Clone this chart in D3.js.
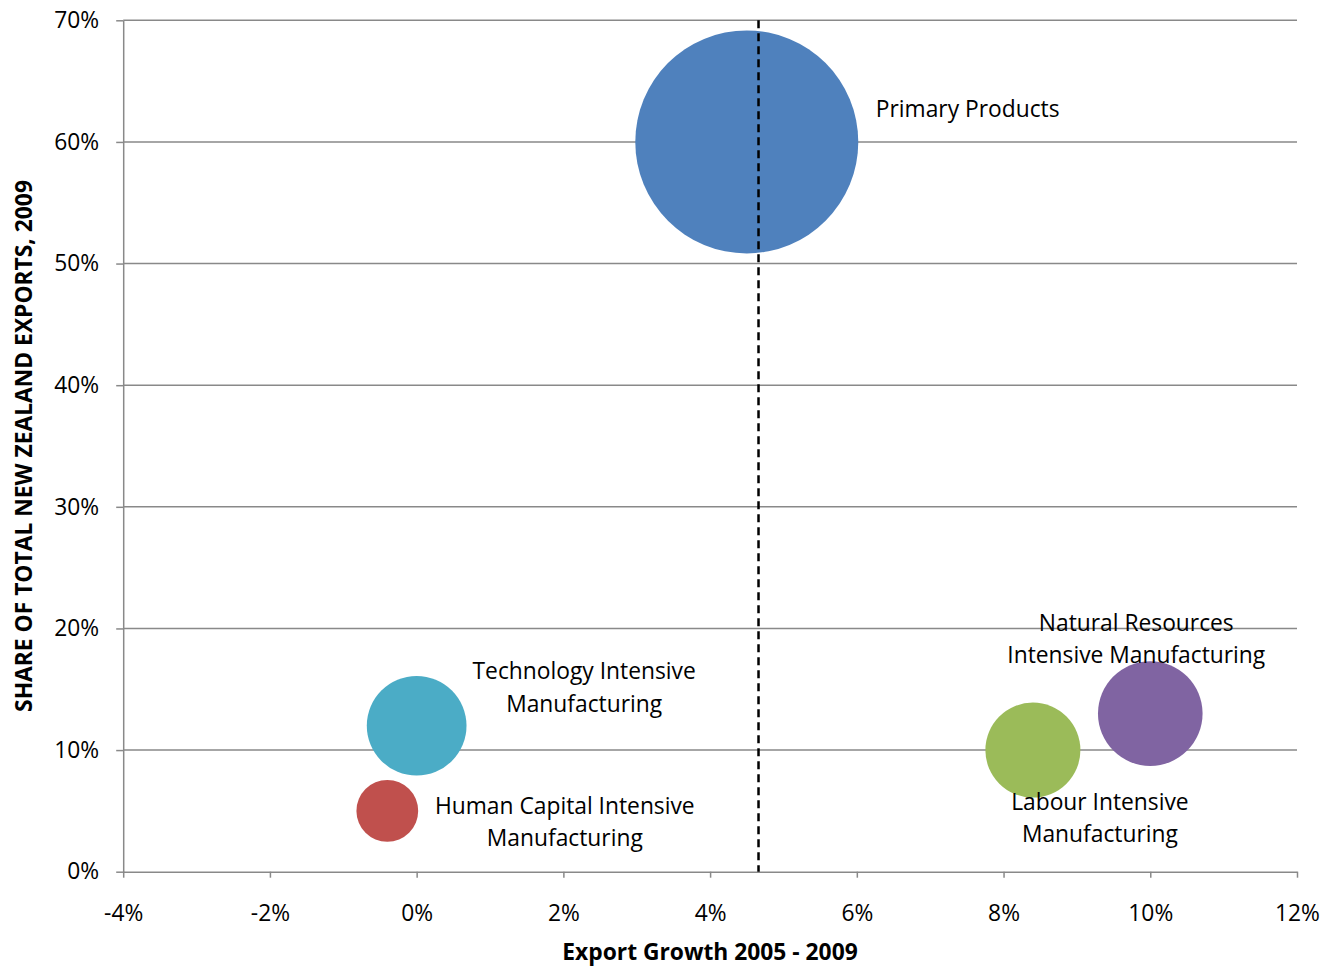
<!DOCTYPE html>
<html><head><meta charset="utf-8">
<script src="https://cdn.jsdelivr.net/npm/d3@7"></script>
<style>
body{margin:0;background:#fff;}
text{font-family:"Open Sans",sans-serif;fill:#000;}
</style></head>
<body><svg id="c" width="1326" height="966"></svg>
<script>
const categories = ["Primary Products","Technology Intensive Manufacturing","Human Capital Intensive Manufacturing","Labour Intensive Manufacturing","Natural Resources Intensive Manufacturing"];
const growth = [4.5, 0.0, -0.4, 8.4, 10.0];        // x, %
const share = [60, 12, 5, 10, 13];                 // y, %
const bubbleSize = [60, 12, 4.6, 10.9, 13.2];      // bubble size
const avgGrowth = 4.66;                             // dashed reference line
const xTicks = [-4,-2,0,2,4,6,8,10,12];
const yTicks = [0,10,20,30,40,50,60,70];
const labelLines = [["Primary Products"],["Technology Intensive","Manufacturing"],["Human Capital Intensive","Manufacturing"],["Labour Intensive","Manufacturing"],["Natural Resources","Intensive Manufacturing"]];

const colors = ["#4F81BD","#4BACC6","#C0504D","#9BBB59","#8064A2"];
const FS = 22.8;
const labelLayout = [
  {dx:17.5, dy:-33, anchor:"start", rel:true},
  {dx:167.5, dy:-54.5, anchor:"middle"},
  {dx:177.5, dy:-5, anchor:"middle"},
  {dx:67, dy:51.5, anchor:"middle"},
  {dx:-14, dy:-91, anchor:"middle"}
];

const svg = d3.select("#c");
const m = {l:123.2, r:1297, t:20.3, b:871.7};
const x = d3.scaleLinear().domain([-4,12]).range([m.l,m.r]);
const y = d3.scaleLinear().domain([0,70]).range([m.b,m.t]);
const rs = d3.scaleSqrt().domain([0,60]).range([0,111.5]);
const fmt = d => d + "%";

// gridlines
svg.append("g").selectAll("line").data(yTicks.filter(d=>d>0)).join("line")
  .attr("x1",m.l).attr("x2",m.r).attr("y1",d=>y(d)).attr("y2",d=>y(d))
  .attr("stroke","#898989").attr("stroke-width",1.5);

// axes
const xAxis = svg.append("g").attr("transform",`translate(0,${m.b})`)
  .call(d3.axisBottom(x).tickValues(xTicks).tickFormat(fmt).tickSizeOuter(0).tickSizeInner(6).tickPadding(27));
const yAxis = svg.append("g").attr("transform",`translate(${m.l},0)`)
  .call(d3.axisLeft(y).tickValues(yTicks).tickFormat(fmt).tickSizeOuter(0).tickSizeInner(7).tickPadding(17));
[xAxis,yAxis].forEach(a=>{
  a.selectAll("path,line").attr("stroke","#898989").attr("stroke-width",1.5);
  a.selectAll("text").attr("font-size",FS).attr("font-family","'Open Sans',sans-serif").attr("fill","#000");
});

// bubbles
const idx = d3.range(categories.length);
svg.append("g").selectAll("circle").data(idx).join("circle")
  .attr("cx",i=>x(growth[i])).attr("cy",i=>y(share[i])).attr("r",i=>rs(bubbleSize[i]))
  .attr("fill",i=>colors[i]);

// dashed line
svg.append("line").attr("x1",x(avgGrowth)).attr("x2",x(avgGrowth)).attr("y1",y(70)).attr("y2",y(0))
  .attr("stroke","#000").attr("stroke-width",2.5).attr("stroke-dasharray","8,5");

// labels
idx.forEach(i=>{
  const L = labelLayout[i];
  const cx = x(growth[i]) + (L.rel ? rs(bubbleSize[i]) : 0) + L.dx;
  const cy = y(share[i]) + L.dy;
  const t = svg.append("text").attr("text-anchor",L.anchor).attr("font-size",FS);
  labelLines[i].forEach((s,k)=>{
    t.append("tspan").attr("x",cx).attr("y",cy + k*32.5 + 8).text(s);
  });
});

// axis titles
svg.append("text").attr("x",710).attr("y",960).attr("text-anchor","middle")
  .attr("font-size",FS).attr("font-weight","bold").text("Export Growth 2005 - 2009");
svg.append("text").attr("transform","translate(32,446) rotate(-90)").attr("text-anchor","middle")
  .attr("font-size",FS).attr("font-weight","bold").text("SHARE OF TOTAL NEW ZEALAND EXPORTS, 2009");
</script></body></html>
